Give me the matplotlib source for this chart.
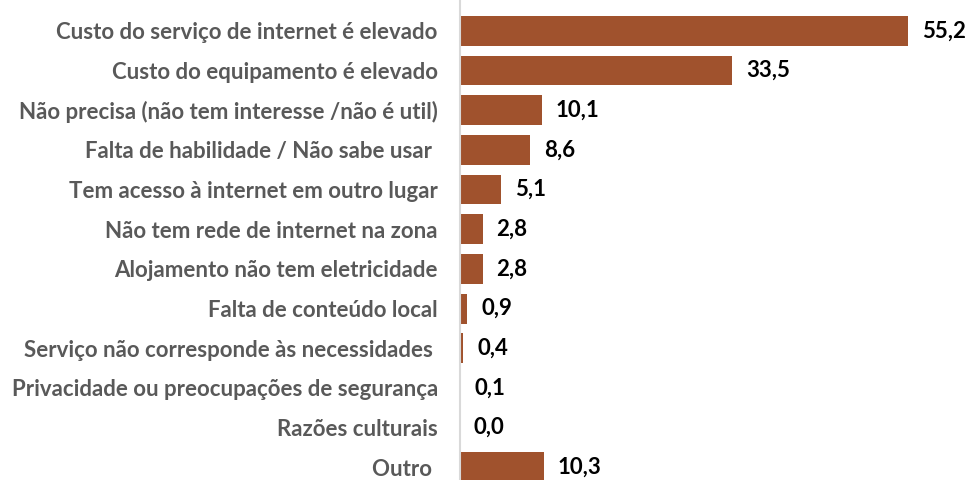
import matplotlib
matplotlib.use("Agg")
import matplotlib.pyplot as plt

categories = [
    "Custo do serviço de internet é elevado",
    "Custo do equipamento é elevado",
    "Não precisa (não tem interesse /não é util)",
    "Falta de habilidade / Não sabe usar ",
    "Tem acesso à internet em outro lugar",
    "Não tem rede de internet na zona",
    "Alojamento não tem eletricidade",
    "Falta de conteúdo local",
    "Serviço não corresponde às necessidades ",
    "Privacidade ou preocupações de segurança",
    "Razões culturais",
    "Outro ",
]
values = [55.2, 33.5, 10.1, 8.6, 5.1, 2.8, 2.8, 0.9, 0.4, 0.1, 0.0, 10.3]
value_labels = ["55,2", "33,5", "10,1", "8,6", "5,1", "2,8", "2,8", "0,9", "0,4", "0,1", "0,0", "10,3"]

plt.rcParams['font.family'] = ['Lato', 'DejaVu Sans']

fig = plt.figure(figsize=(9.68, 4.80), dpi=100)
ax = fig.add_axes([460/968, 0, 1 - 460/968, 1])

y = list(range(len(categories)))
ax.barh(y, values, height=0.75, color="#A0522D")
ax.set_ylim(11.32, -0.78)
ax.set_xlim(0, 62.6)

for yi, v, lab in zip(y, values, value_labels):
    ax.annotate(lab, xy=(v, yi), xytext=(10, 0), textcoords="offset points",
                ha="left", va="center", fontsize=16, fontweight="bold", color="black")

ax.set_yticks(y)
ax.set_yticklabels(categories, fontsize=16, fontweight="bold", color="#595959")
ax.tick_params(axis="y", length=0, pad=16)
ax.set_xticks([])
for s in ["top", "right", "bottom"]:
    ax.spines[s].set_visible(False)
ax.spines["left"].set_color("#D9D9D9")
ax.spines["left"].set_linewidth(1.5)

fig.savefig("out.png", dpi=100)
